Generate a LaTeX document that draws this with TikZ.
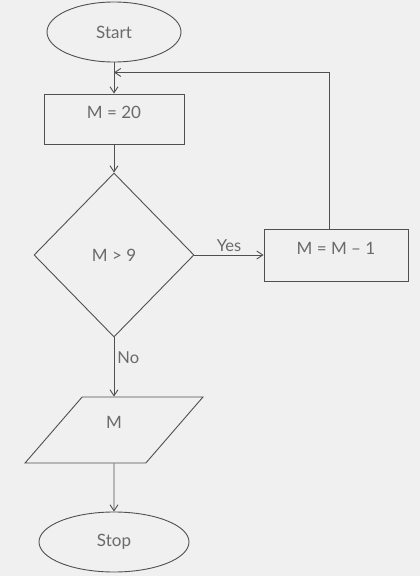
\documentclass[tikz,border=0pt]{standalone}
\usepackage{fontspec}
\setmainfont{Lato}
\usepackage{xcolor}
\definecolor{inkGray}{HTML}{505050}
\definecolor{textGray}{HTML}{6A6A6A}
\definecolor{paperGray}{HTML}{F0F0F0}
\usepackage{tikz}
\usetikzlibrary{
    shapes.geometric,
    arrows.meta,
    positioning
}
\tikzset{
    % Base style for all nodes
    flow base/.style={
        font=\fontsize{17}{20}\selectfont,
        align=center,
        text=textGray,
        draw=inkGray,
        line width=0.9pt,
        inner sep=2pt,
    },
    % Start/Stop nodes - plain ellipse
    startstop/.style={
        flow base,
        ellipse,
        minimum width=134pt,
        minimum height=60pt,
    },
    % Process nodes - plain rectangle, text set a little high
    process/.style={
        flow base,
        rectangle,
        minimum width=140pt,
        minimum height=50pt,
        text height=11.5pt,
        text depth=12pt,
    },
    % Decision diamond
    decision/.style={
        flow base,
        diamond,
        aspect=1,
        minimum width=160pt,
        minimum height=164pt,
        inner sep=0pt,
    },
    % Output node - parallelogram
    io/.style={
        flow base,
        trapezium,
        trapezium left angle=59,
        trapezium right angle=121,
        trapezium stretches=true,
        minimum width=178pt,
        minimum height=66pt,
        text height=11.5pt,
        text depth=14pt,
    },
    % Plain arrow with open barb
    arrow/.style={
        -{Straight Barb[length=6pt, width=8pt]},
        line width=0.9pt,
        draw=inkGray,
    },
    % Label style for Yes/No
    edge label/.style={
        font=\fontsize{16.5}{19}\selectfont,
        text=textGray,
        inner sep=3pt,
    },
}

\begin{document}
\begin{tikzpicture}[x=1pt, y=1pt, node distance=87pt]
    \fill [paperGray] (-114,32) rectangle (306,-544);
    \useasboundingbox (-114,32) rectangle (306,-544);

    \node (start) [startstop] {Start};
    \node (init) [process, below of=start] {M = 20};
    \node (test) [decision, node distance=136pt, below of=init] {M > 9};
    \node (dec) [process, node distance=222pt, right of=test, minimum width=144pt, minimum height=52pt] {M = M – 1};
    \node (show) [io, node distance=175pt, below of=test] {M};
    \node (stop) [startstop, node distance=112pt, below of=show, minimum width=150pt] {Stop};
    \coordinate (join) at ([yshift=-10pt]start.south);

    \draw [arrow] (start) -- (init);
    \draw [arrow] (init) -- (test);
    \draw [arrow] (test) -- node[edge label, above] {Yes} (dec);
    \draw [arrow] ([xshift=-7pt]dec.north) |- (join);
    \draw [arrow] (test) -- node[edge label, right, pos=0.35] {No} (show);
    \draw [arrow] (show) -- (stop);
\end{tikzpicture}
\end{document}
